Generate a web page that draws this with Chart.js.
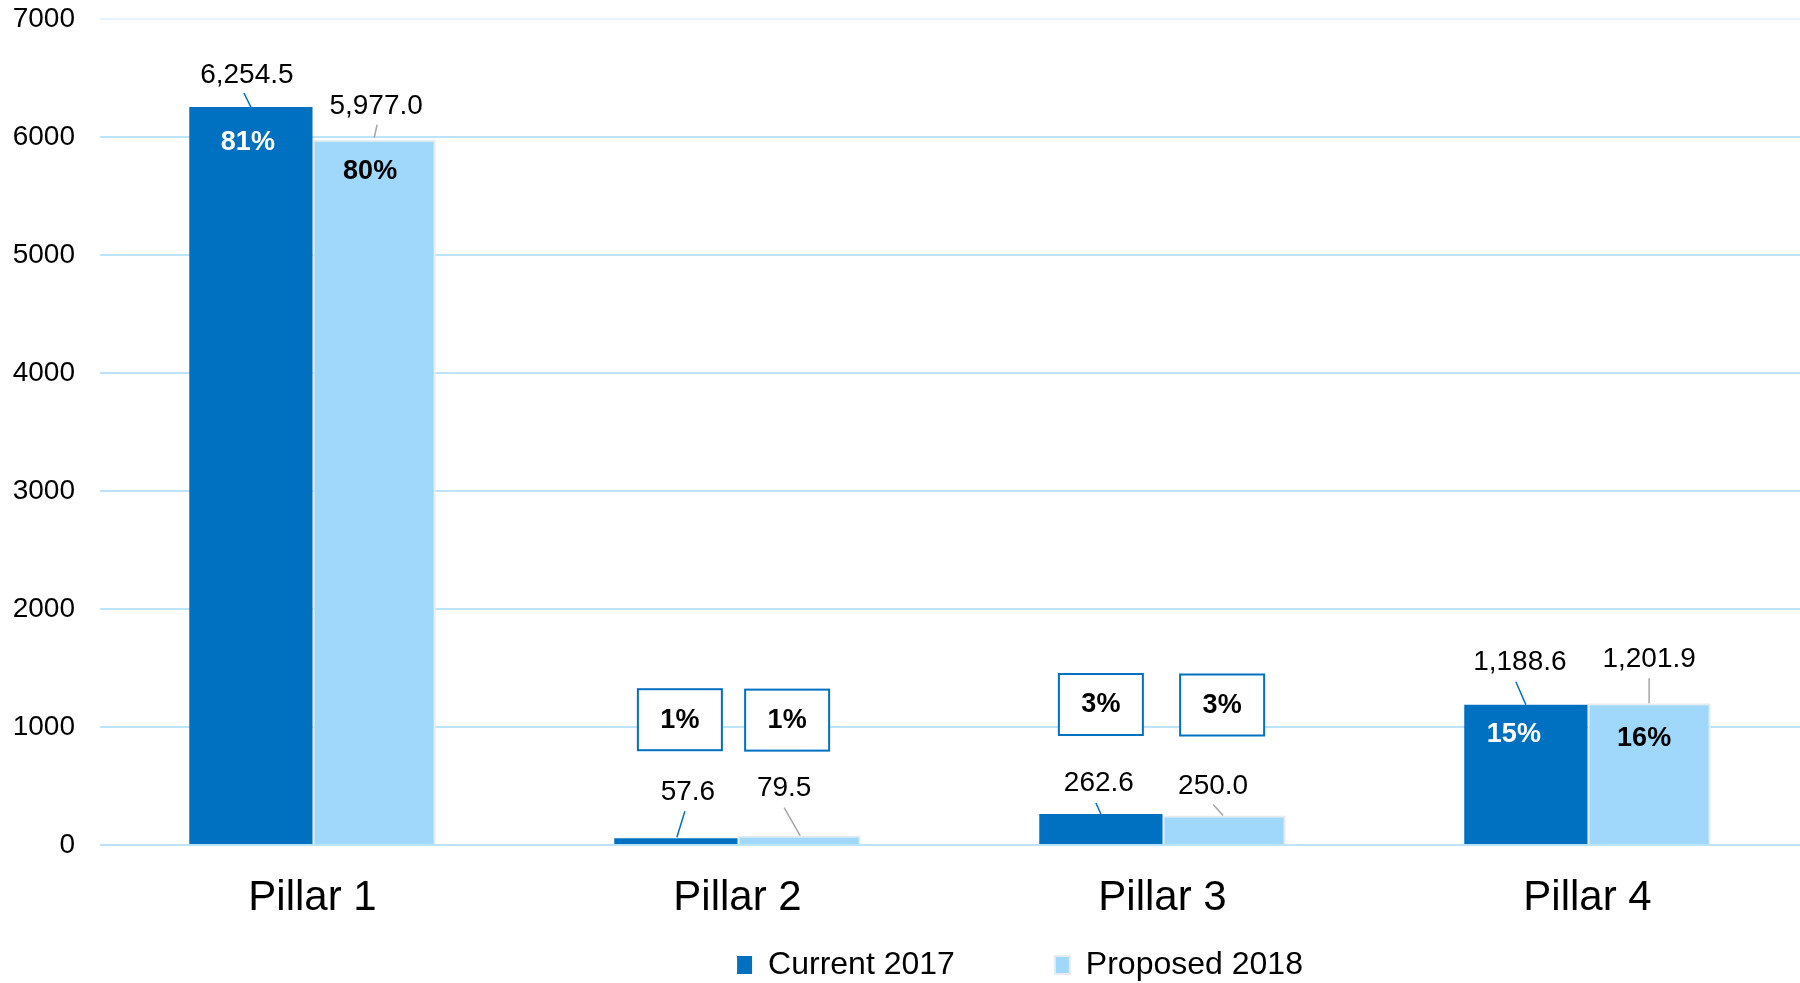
<!DOCTYPE html>
<html>
<head>
<meta charset="utf-8">
<script src="https://cdn.jsdelivr.net/npm/chart.js@4.4.1/dist/chart.umd.min.js"></script>
<style>
  html, body { margin: 0; padding: 0; background: #fff; }
  #wrap { width: 1800px; height: 983px; }
</style>
</head>
<body>
<div id="wrap"><canvas id="mycanvas"></canvas></div>
<script>
var pillars = ['Pillar 1', 'Pillar 2', 'Pillar 3', 'Pillar 4'];
var current2017 = [6254.5, 57.6, 262.6, 1188.6];
var proposed2018 = [5977.0, 79.5, 250.0, 1201.9];
var share2017 = [81, 1, 3, 15];
var share2018 = [80, 1, 3, 16];
var yTicks = [0, 1000, 2000, 3000, 4000, 5000, 6000, 7000];

// label placement, in px relative to bar centre / bar top
// v = value text, l = leader line, p = percent label, box = percent in a framed box
var place = [
	[
		{ v: [-4, -32], l: [-7, -14, 0, 0], p: [-3, 35] },
		{ v: [12, -46], l: [9, -27, 1, -1], p: [4, -119], box: true },
		{ v: [-2, -31], l: [-5, -11, 0, 0], p: [0, -110], box: true },
		{ v: [-6, -42], l: [-10, -23, 0, 0], p: [-12, 29] }
	],
	[
		{ v: [2, -33], l: [3, -15, 0, -2], p: [-4, 31] },
		{ v: [-15, -47], l: [-15, -28, 1, 0], p: [-12, -116], box: true },
		{ v: [-11, -29], l: [-11, -11, -1, 0], p: [-2, -111], box: true },
		{ v: [0, -44], l: [0, -25, 0, 0], p: [-5, 34] }
	]
];
var shares = [share2017, share2018];
var leaderColors = ['#0070c0', '#a6a6a6'];
var pctColors = ['#ffffff', '#000000'];
var font = '"Liberation Sans", Arial, sans-serif';

var barLabels = {
	id: 'barLabels',
	afterLayout: function(chart) {
		// pull the legend row up under the axis labels and a bit to the right
		var lg = chart.legend;
		if (lg) {
			lg.top -= 71;
			lg.bottom -= 71;
			lg.left += 70;
			lg.right += 70;
		}
	},
	afterDatasetsDraw: function(chart) {
		var ctx = chart.ctx;
		ctx.save();
		chart.data.datasets.forEach(function(ds, di) {
			var meta = chart.getDatasetMeta(di);
			meta.data.forEach(function(bar, i) {
				var p = place[di][i];
				var x = bar.x, y = bar.y;

				ctx.strokeStyle = leaderColors[di];
				ctx.lineWidth = 1.5;
				ctx.beginPath();
				ctx.moveTo(x + p.l[0], y + p.l[1]);
				ctx.lineTo(x + p.l[2], y + p.l[3]);
				ctx.stroke();

				ctx.fillStyle = '#000';
				ctx.font = '28px ' + font;
				ctx.textAlign = 'center';
				ctx.textBaseline = 'middle';
				var txt = ds.data[i].toLocaleString('en-US', { minimumFractionDigits: 1, maximumFractionDigits: 1 });
				ctx.fillText(txt, x + p.v[0], y + p.v[1]);

				var px = x + p.p[0], py = y + p.p[1];
				ctx.font = 'bold 27px ' + font;
				if (p.box) {
					ctx.fillStyle = '#fff';
					ctx.fillRect(px - 42, py - 30, 84, 61);
					ctx.strokeStyle = '#0070c0';
					ctx.lineWidth = 2;
					ctx.strokeRect(px - 42, py - 30, 84, 61);
					ctx.fillStyle = '#000';
				} else {
					ctx.fillStyle = pctColors[di];
				}
				ctx.fillText(shares[di][i] + '%', px, py + 1);
			});
		});
		ctx.restore();
	}
};

var chartdata = {
	labels: pillars,
	datasets: [
		{
			label: 'Current 2017',
			backgroundColor: '#0070c0',
			borderColor: '#0070c0',
			borderWidth: 0,
			data: current2017
		},
		{
			label: 'Proposed 2018',
			backgroundColor: '#a0d8fc',
			borderColor: '#e8ecef',
			borderWidth: 2,
			data: proposed2018
		}
	]
};

var ctx = document.getElementById('mycanvas');

var barGraph = new Chart(ctx, {
	type: 'bar',
	data: chartdata,
	plugins: [barLabels],
	options: {
		responsive: true,
		maintainAspectRatio: false,
		animation: false,
		layout: { padding: { top: 19, right: 0, bottom: -79, left: 0 } },
		datasets: {
			bar: { categoryPercentage: 0.58, barPercentage: 1.0 }
		},
		plugins: {
			legend: {
				position: 'bottom',
				fullSize: false,
				labels: {
					color: '#000',
					font: { family: font, size: 32 },
					boxWidth: 15,
					boxHeight: 18,
					padding: 100
				}
			},
			tooltip: { enabled: false }
		},
		scales: {
			x: {
				afterFit: function(scale) { scale.height = 75; },
				grid: { display: false },
				border: { display: false },
				ticks: {
					color: '#000',
					padding: 20,
					font: { family: font, size: 42 }
				}
			},
			y: {
				min: 0,
				max: 7000,
				afterFit: function(scale) {
					scale.width = 100;
					scale.paddingTop = 0;
					scale.paddingBottom = 0;
				},
				afterBuildTicks: function(scale) {
					scale.ticks = yTicks.map(function(v) { return { value: v }; });
				},
				grid: {
					drawTicks: false,
					lineWidth: 2,
					color: function(c) { return c.tick && c.tick.value === 7000 ? '#e4f3fd' : '#bde3fa'; }
				},
				border: { display: false },
				ticks: {
					color: '#000',
					padding: 25,
					font: { family: font, size: 28 },
					callback: function(v) { return String(v); }
				}
			}
		}
	}
});
</script>
</body>
</html>
